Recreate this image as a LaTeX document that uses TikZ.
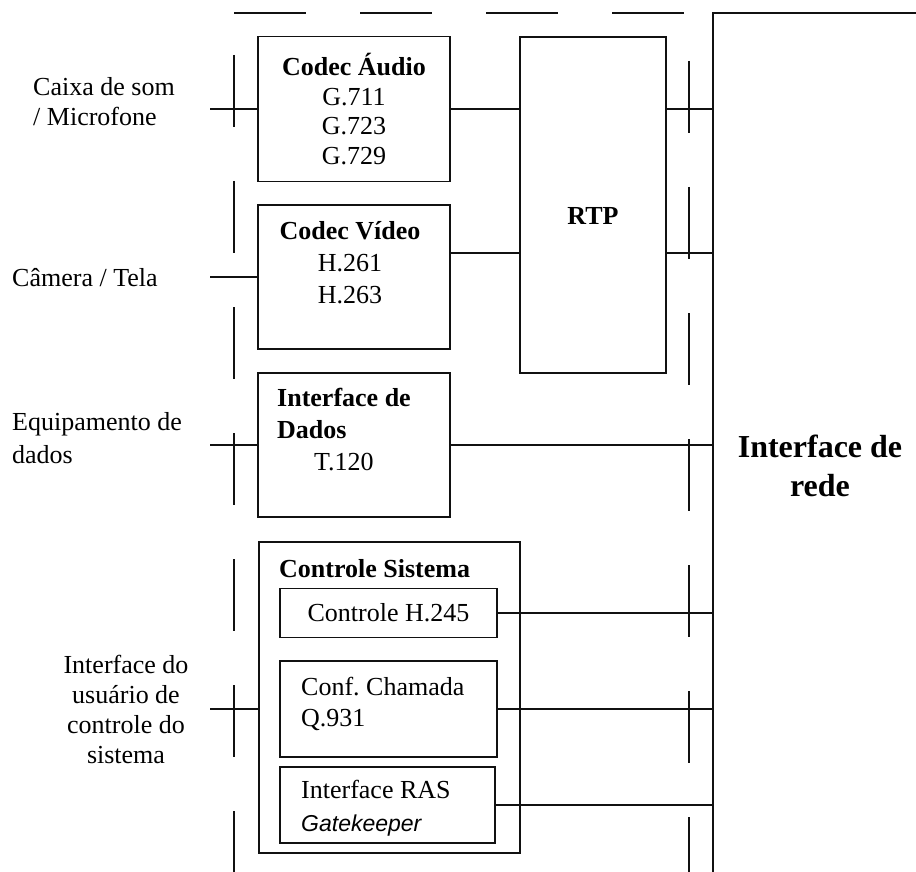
\documentclass[tikz,border=0pt]{standalone}
\usepackage{fontspec}
\setmainfont{Liberation Serif}
\newfontfamily\gkfont{Liberation Sans}
\usepackage{tikz}
\usetikzlibrary{
  positioning,
  calc
}
\definecolor{FrameBlack}{RGB}{17,17,17}
\newcommand{\regfont}{\fontsize{26}{29.5}\selectfont}
\newcommand{\netfont}{\fontsize{32}{39}\selectfont\bfseries}
\tikzset{
  blockbox/.style={draw=FrameBlack,line width=1.5pt,inner sep=0pt,align=center,font=\regfont},
  blocktext/.style={inner sep=0pt,align=left,font=\fontsize{26}{#1}\selectfont},
  blocktext/.default=32,
  sidelabel/.style={inner sep=0pt,align=left,font=\fontsize{26}{#1}\selectfont},
  sidelabel/.default=30,
  netlabel/.style={inner sep=0pt,align=center,font=\netfont},
  link/.style={draw=FrameBlack,line width=1.5pt},
  wall/.style={draw=FrameBlack,line width=1.5pt},
  dashwall/.style={wall,dash pattern=on 72pt off 54pt}
}

\begin{document}
\begin{tikzpicture}[x=1pt,y=-1pt]
\useasboundingbox (0,0) rectangle (916,872);

% frame of the terminal and the network side
\coordinate (inwall) at (210,0);
\coordinate (netwall) at (713,0);
\draw[dashwall] (234,13) -- (713,13);
\draw[dashwall] (234,55) -- (234,872);
\draw[dashwall] (689,61) -- (689,872);
\draw[wall] (916,13) -- (713,13) -- (713,872);
\node[netlabel] (rede) at (820,466) {Interface de\\rede};

% media blocks
\node[blockbox,minimum width=192pt,minimum height=145pt] (audio) at (354,109) {\textbf{Codec Áudio}\\G.711\\G.723\\G.729};
\node[blockbox,minimum width=192pt,minimum height=144pt] (video) at (354,277) {};
\node[blocktext,align=center] (videotxt) at (350,262.5) {\textbf{Codec Vídeo}\\H.261\\H.263};
\node[blockbox,minimum width=192pt,minimum height=144pt] (data) at (354,445) {};
\node[blocktext,anchor=west] (datatxt) at (277,430) {\textbf{Interface de}\\\textbf{Dados}\\\hspace*{37pt}T.120};
\node[blockbox,minimum width=146pt,minimum height=336pt] (rtp) at (593,205) {};
\node[blocktext] (rtptxt) at (593,216) {\textbf{RTP}};

% system control
\node[blockbox,minimum width=261pt,minimum height=311pt] (ctrl) at (389.5,697.5) {};
\node[blocktext,anchor=west] (ctrltxt) at (279,569) {\textbf{Controle Sistema}};
\node[blockbox,minimum width=217pt,minimum height=49pt] (h245) at (388.5,613) {Controle H.245};
\node[blockbox,minimum width=217pt,minimum height=96pt] (q931) at (388.5,709) {};
\node[blocktext=31,anchor=west] (q931txt) at (301,704) {Conf.\ Chamada\\Q.931};
\node[blockbox,minimum width=215pt,minimum height=76pt] (ras) at (387.5,805) {};
\node[blocktext=33,anchor=west] (rastxt) at (301,808) {Interface RAS\\{\gkfont\itshape\fontsize{23}{33}\selectfont Gatekeeper}};

% user side labels
\node[sidelabel,anchor=west] (som) at (33,102) {Caixa de som\\/ Microfone};
\node[sidelabel,anchor=west] (camera) at (12,278) {Câmera / Tela};
\node[sidelabel=33,anchor=west] (equip) at (12,438) {Equipamento de\\dados};
\node[sidelabel,align=center] (usuario) at (126,709) {Interface do\\usuário de\\controle do\\sistema};

% connectors
\foreach \src in {audio,video,data}{
  \draw[link] (\src.west) -- (\src.west -| inwall);
}
\draw[link] (q931.west -| ctrl.west) -- (q931.west -| inwall);
\draw[link] (audio.east) -- (audio.east -| rtp.west);
\draw[link] ([yshift=24pt]video.east) -- ([yshift=24pt]video.east -| rtp.west);
\draw[link] (audio.east -| rtp.east) -- (audio.east -| netwall);
\draw[link] ([yshift=24pt]video.east -| rtp.east) -- ([yshift=24pt]video.east -| netwall);
\foreach \src in {data,h245,q931,ras}{
  \draw[link] (\src.east) -- (\src.east -| netwall);
}
\end{tikzpicture}
\end{document}
